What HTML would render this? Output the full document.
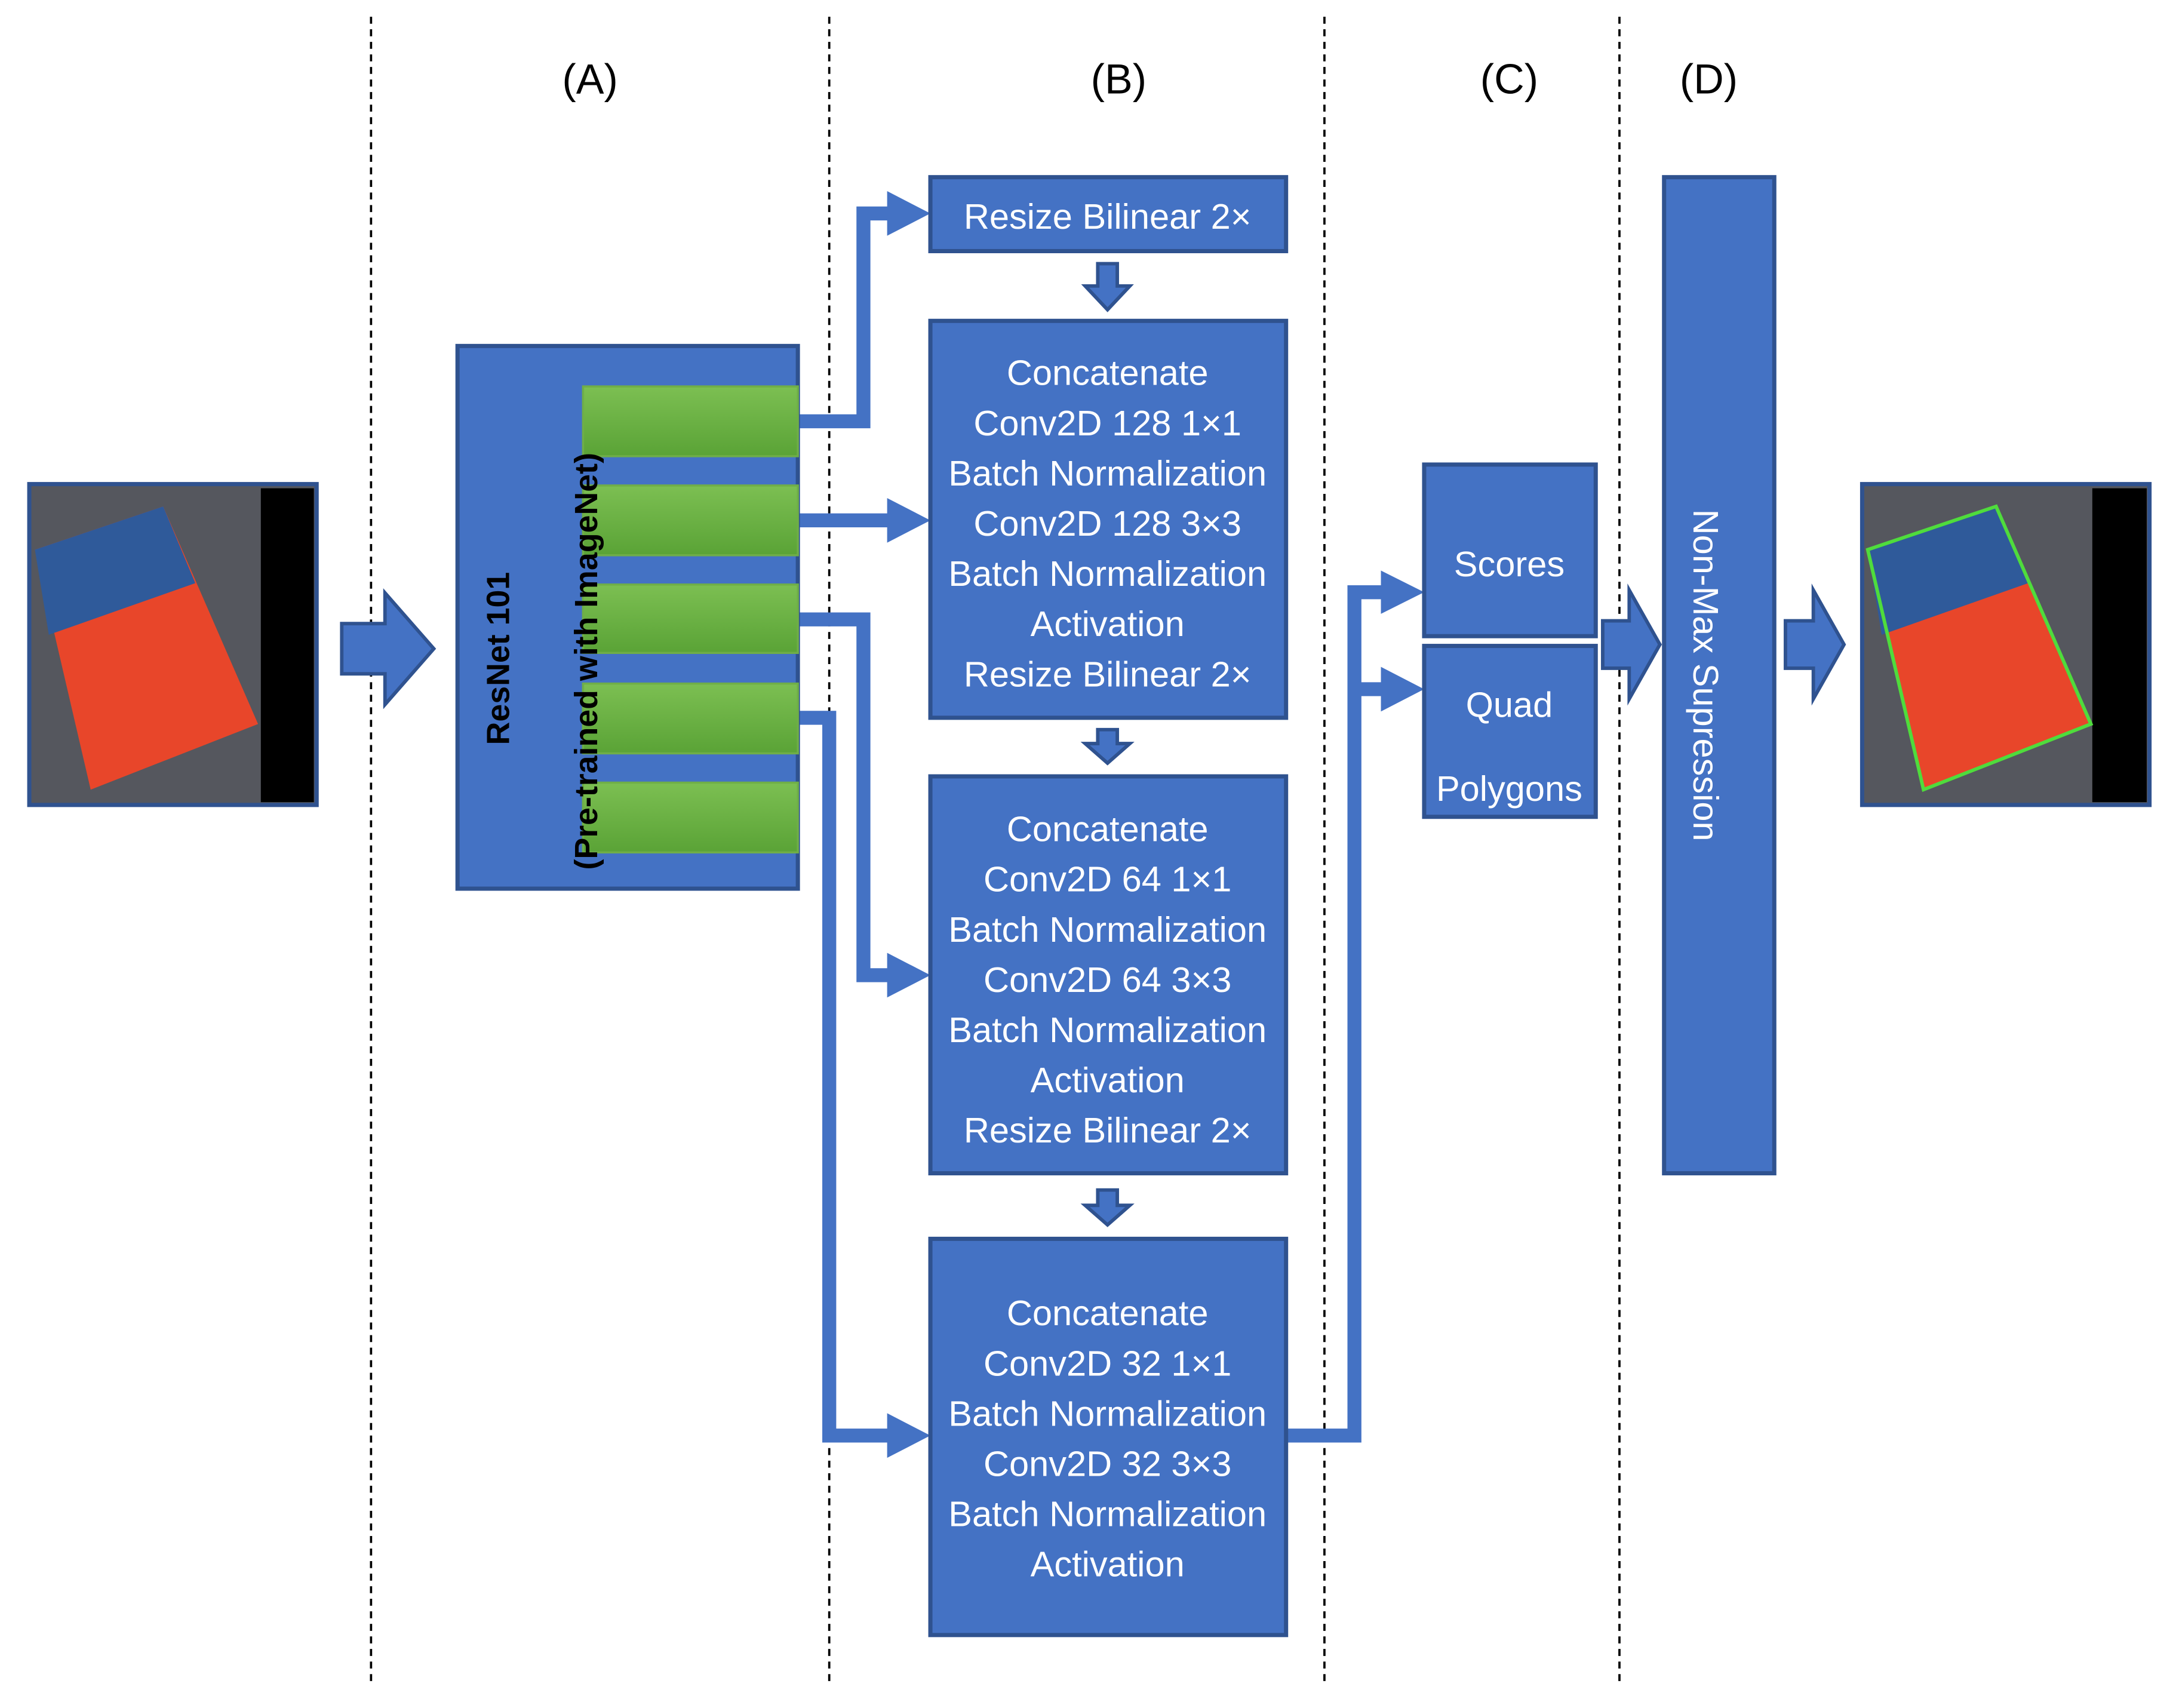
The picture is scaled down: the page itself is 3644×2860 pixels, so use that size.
<!DOCTYPE html>
<html><head><meta charset="utf-8"><style>
html,body{margin:0;padding:0;background:#fff;}
svg{display:block;}
text{font-family:"Liberation Sans",sans-serif;}
.w{fill:#fff;font-size:25.5px;text-anchor:middle;}
</style></head><body>
<svg width="3644" height="2860" viewBox="0 0 1560 1224.3" preserveAspectRatio="none" xmlns="http://www.w3.org/2000/svg">
<rect width="1560" height="1225" fill="#fff"/>
<g stroke="#000" stroke-width="1.6" stroke-dasharray="5,4">
<line x1="266" y1="12" x2="266" y2="1207"/><line x1="594.5" y1="12" x2="594.5" y2="1207"/>
<line x1="949.5" y1="12" x2="949.5" y2="1207"/><line x1="1161" y1="12" x2="1161" y2="1207"/>
</g>
<g font-size="30" text-anchor="middle" fill="#000">
<text x="423" y="67">(A)</text><text x="802" y="67">(B)</text><text x="1082" y="67">(C)</text><text x="1225" y="67">(D)</text>
</g>
<!-- input image -->
<rect x="21" y="347" width="206" height="230" fill="#55575e" stroke="#2F528F" stroke-width="3"/>
<rect x="187" y="350" width="38" height="225" fill="#000"/>
<polygon points="25,394 117,363 185,519 65,566" fill="#e8462a"/>
<polygon points="25,394 117,363 140,418 35,455" fill="#2f5a9a"/>
<!-- output image -->
<rect x="1335" y="347" width="206" height="230" fill="#55575e" stroke="#2F528F" stroke-width="3"/>
<rect x="1500" y="350" width="39" height="225" fill="#000"/>
<polygon points="1339,394 1431,363 1499,519 1379,566" fill="#e8462a"/>
<polygon points="1339,394 1431,363 1454,418 1349,455" fill="#2f5a9a"/>
<polygon points="1339,394 1431,363 1499,519 1379,566" fill="none" stroke="#4fdc3c" stroke-width="2.5"/>
<g fill="#4472C4" stroke="#2F528F" stroke-width="2.5">
<polygon points="245,447 276,447 276,425 311,465 276,505 276,483 245,483"/>
<polygon points="1149,445 1168,445 1168,423 1190,462 1168,501 1168,479 1149,479"/>
<polygon points="1280,445 1300,445 1300,423 1322,462 1300,501 1300,479 1280,479"/>
<polygon points="787,189 801,189 801,205 810,205 794,222 778,205 787,205"/>
<polygon points="787,523 801,523 801,533 810,533 794,547 778,533 787,533"/>
<polygon points="787,853 801,853 801,864 810,864 794,878 778,864 787,864"/>
</g>
<g fill="none" stroke="#4472C4" stroke-width="10">
<polyline points="572,302 619,302 619,153 638,153"/>
<polyline points="572,373 638,373"/>
<polyline points="572,444 619,444 619,699 638,699"/>
<polyline points="572,514.5 594.5,514.5 594.5,1029 638,1029"/>
<polyline points="922,1029 971,1029 971,424.5 992,424.5"/>
<polyline points="971,494 992,494"/>
</g>
<g fill="#4472C4">
<polygon points="636,137 667,153 636,169"/>
<polygon points="636,357 667,373 636,389"/>
<polygon points="636,683 667,699 636,715"/>
<polygon points="636,1013 667,1029 636,1045"/>
<polygon points="990,409 1021,424.5 990,440"/>
<polygon points="990,478 1021,494 990,510"/>
</g>
<g fill="#4472C4" stroke="#2F528F" stroke-width="3">
<rect x="328" y="248" width="244" height="389"/>
<rect x="667" y="127" width="255" height="53"/>
<rect x="667" y="230" width="255" height="284.5"/>
<rect x="667" y="556.5" width="255" height="284.5"/>
<rect x="667" y="888" width="255" height="284"/>
<rect x="1021" y="333" width="123" height="123"/>
<rect x="1021" y="463" width="123" height="122.5"/>
<rect x="1193" y="127" width="79" height="714"/>
</g>
<defs><linearGradient id="g" x1="0" y1="0" x2="0" y2="1"><stop offset="0" stop-color="#7cbf52"/><stop offset="1" stop-color="#5aa336"/></linearGradient></defs>
<g fill="url(#g)" stroke="#6fae48" stroke-width="1.5">
<rect x="418" y="277" width="154" height="50"/><rect x="418" y="348" width="154" height="50"/>
<rect x="418" y="419" width="154" height="49"/><rect x="418" y="490" width="154" height="50"/>
<rect x="418" y="561" width="154" height="50"/>
</g>
<text transform="translate(365,472) rotate(-90)" font-size="23" font-weight="bold" text-anchor="middle">ResNet 101</text>
<text transform="translate(428,474) rotate(-90)" font-size="23" font-weight="bold" text-anchor="middle">(Pre-trained with ImageNet)</text>
<g class="w">
<text x="794" y="164" class="w">Resize Bilinear 2×</text>
<text x="794" y="276" class="w">Concatenate</text><text x="794" y="312" class="w">Conv2D 128 1×1</text>
<text x="794" y="348" class="w">Batch Normalization</text><text x="794" y="384" class="w">Conv2D 128 3×3</text>
<text x="794" y="420" class="w">Batch Normalization</text><text x="794" y="456" class="w">Activation</text>
<text x="794" y="492" class="w">Resize Bilinear 2×</text>
<text x="794" y="603" class="w">Concatenate</text><text x="794" y="639" class="w">Conv2D 64 1×1</text>
<text x="794" y="675" class="w">Batch Normalization</text><text x="794" y="711" class="w">Conv2D 64 3×3</text>
<text x="794" y="747" class="w">Batch Normalization</text><text x="794" y="783" class="w">Activation</text>
<text x="794" y="819" class="w">Resize Bilinear 2×</text>
<text x="794" y="950" class="w">Concatenate</text><text x="794" y="986" class="w">Conv2D 32 1×1</text>
<text x="794" y="1022" class="w">Batch Normalization</text><text x="794" y="1058" class="w">Conv2D 32 3×3</text>
<text x="794" y="1094" class="w">Batch Normalization</text><text x="794" y="1130" class="w">Activation</text>
<text x="1082" y="413" class="w">Scores</text>
<text x="1082" y="514" class="w">Quad</text>
<text x="1082" y="574" class="w">Polygons</text>
</g>
<text transform="translate(1214,484) rotate(90)" class="w" font-size="23">Non-Max Supression</text>
</svg>
</body></html>
